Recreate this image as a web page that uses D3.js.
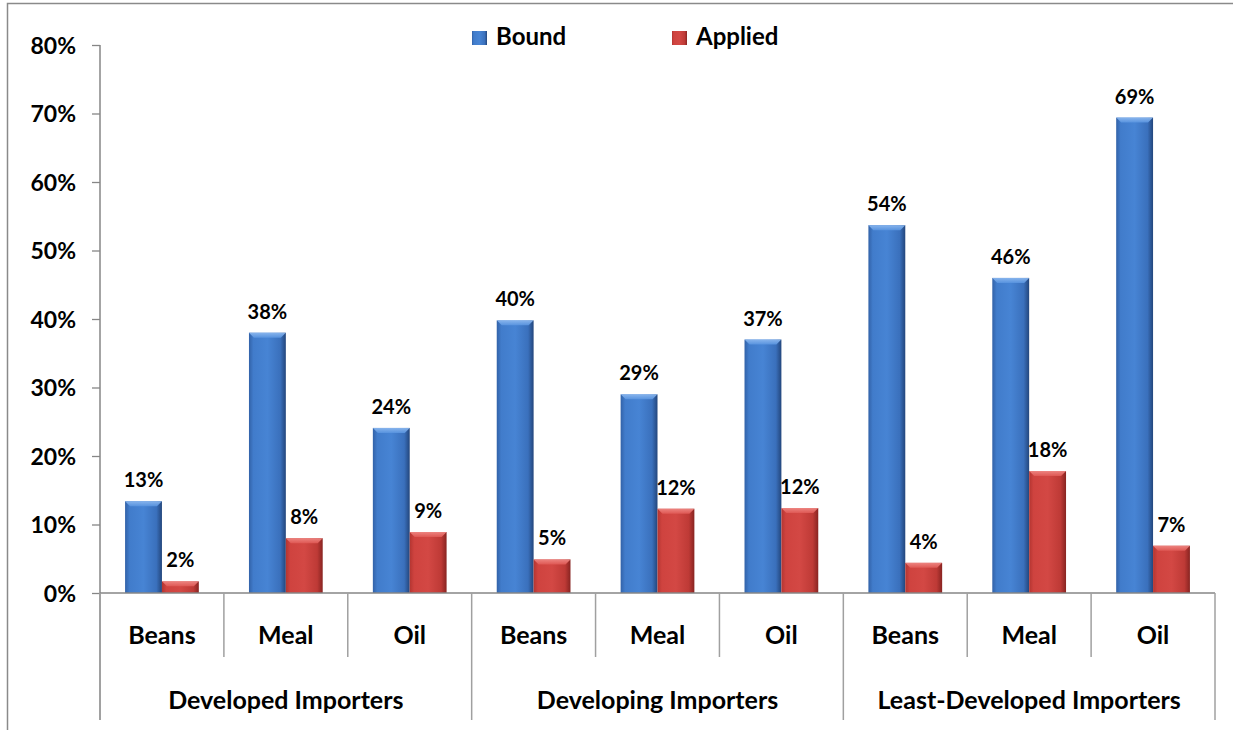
<!DOCTYPE html>
<html><head><meta charset="utf-8">
<script src="https://cdn.jsdelivr.net/npm/d3@7"></script>
<style>
html,body{margin:0;padding:0;background:#fff;}
svg text{font-family:Lato,"Open Sans",sans-serif;font-weight:bold;fill:#000;}
</style></head>
<body>
<svg id="chart" width="1233" height="730"></svg>
<script>
const groups = ["Developed Importers","Developing Importers","Least-Developed Importers"];
const products = ["Beans","Meal","Oil"];
const series = ["Bound","Applied"];
const bound = [13.4, 38.0, 24.1, 39.8, 29.0, 37.0, 53.7, 46.0, 69.4];
const applied = [1.7, 8.0, 8.9, 4.9, 12.3, 12.4, 4.4, 17.8, 6.9];
const yTicks = [0,10,20,30,40,50,60,70,80];

const svg = d3.select("#chart");
const W = 1233, H = 730;
const pLeft = 100, pRight = 1215, pTop = 45, base = 593, bottomEnd = 720;

const defs = svg.append("defs");
function grad(id, stops){
  const g = defs.append("linearGradient").attr("id", id).attr("x1","0").attr("x2","1").attr("y1","0").attr("y2","0");
  stops.forEach(s=>g.append("stop").attr("offset",s[0]).attr("stop-color",s[1]));
}
grad("gBlue",[[0,"#3262a8"],[0.12,"#417ccb"],[0.5,"#4784d4"],[0.85,"#3a70bc"],[1,"#23467c"]]);
grad("gRed",[[0,"#b33531"],[0.12,"#cf433f"],[0.5,"#d34844"],[0.85,"#be3a36"],[1,"#882421"]]);
const gv1 = defs.append("linearGradient").attr("id","gBlueTop").attr("x1",0).attr("x2",0).attr("y1",0).attr("y2",1);
gv1.append("stop").attr("offset",0).attr("stop-color","#8fbaf0");
gv1.append("stop").attr("offset",1).attr("stop-color","#5a95e0");
const gv2 = defs.append("linearGradient").attr("id","gRedTop").attr("x1",0).attr("x2",0).attr("y1",0).attr("y2",1);
gv2.append("stop").attr("offset",0).attr("stop-color","#f08a86");
gv2.append("stop").attr("offset",1).attr("stop-color","#e05a56");

// frame
svg.append("path").attr("d",`M7.5,${H} V3.5 H${W}`).attr("fill","none").attr("stroke","#8a8a8a").attr("stroke-width",1.5);

const cats = d3.range(9);
const x = d3.scaleBand().domain(cats).range([pLeft,pRight]);
const xs = d3.scaleBand().domain(series).range([0,x.bandwidth()]).paddingInner(0).paddingOuter(0.68);
const y = d3.scaleLinear().domain([0,80]).range([base,pTop]);

// y axis
const yAxis = d3.axisLeft(y).tickValues(yTicks).tickFormat(d=>d+"%").tickSize(8).tickSizeOuter(0);
const ya = svg.append("g").attr("transform",`translate(${pLeft},0)`).call(yAxis);
ya.select(".domain").remove();
ya.selectAll(".tick line").attr("stroke","#868686").attr("stroke-width",1.3);
ya.selectAll(".tick text").attr("x",-24).style("font-size","23px").attr("dy","0.35em");
svg.append("line").attr("x1",pLeft).attr("x2",pLeft).attr("y1",pTop).attr("y2",bottomEnd).attr("stroke","#868686").attr("stroke-width",1.5);

// bars
const data = [];
cats.forEach(i=>{
  data.push({i, s:"Bound", v:bound[i]});
  data.push({i, s:"Applied", v:applied[i]});
});
const bars = svg.append("g").selectAll("g").data(data).join("g")
  .attr("transform",d=>`translate(${x(d.i)+xs(d.s)},0)`);
bars.append("rect").attr("x",0).attr("width",xs.bandwidth())
  .attr("y",d=>y(d.v)).attr("height",d=>base-y(d.v))
  .attr("fill",d=>d.s==="Bound"?"url(#gBlue)":"url(#gRed)");
bars.append("path").attr("d",d=>{
  const w = xs.bandwidth(), t = y(d.v), b = Math.min(5, (base-t));
  return `M0,${t} H${w} L${w-5},${t+b} H5 Z`;
}).attr("fill",d=>d.s==="Bound"?"url(#gBlueTop)":"url(#gRedTop)").attr("opacity",0.9);
bars.append("text").attr("x",xs.bandwidth()/2).attr("y",d=>y(d.v)-14)
  .attr("text-anchor","middle").style("font-size","20px")
  .text(d=>Math.round(d.v)+"%");

// baseline and category axis
svg.append("line").attr("x1",pLeft).attr("x2",pRight).attr("y1",base).attr("y2",base).attr("stroke","#868686").attr("stroke-width",1.5);
const seps = d3.range(10);
svg.append("g").selectAll("line").data(seps).join("line")
  .attr("x1",d=>d<9?x(d):pRight).attr("x2",d=>d<9?x(d):pRight)
  .attr("y1",base).attr("y2",d=>d%3===0?bottomEnd:657)
  .attr("stroke","#a0a0a0").attr("stroke-width",1.5);
svg.append("g").selectAll("text").data(cats).join("text")
  .attr("x",d=>x(d)+x.bandwidth()/2).attr("y",644)
  .attr("text-anchor","middle").style("font-size","25px")
  .text(d=>products[d%3]);
svg.append("g").selectAll("text").data(groups).join("text")
  .attr("x",(d,i)=>(x(i*3)+x(i*3+2)+x.bandwidth())/2).attr("y",709)
  .attr("text-anchor","middle").style("font-size","25px")
  .text(d=>d);

// legend
const legX = [472, 672];
const lg = svg.append("g").selectAll("g").data(series).join("g")
  .attr("transform",(d,i)=>`translate(${legX[i]},31)`);
lg.append("rect").attr("width",15).attr("height",14).attr("fill",(d,i)=>i===0?"url(#gBlue)":"url(#gRed)");
lg.append("text").attr("x",24).attr("y",14).style("font-size","24px").text(d=>d);
</script>
</body></html>
